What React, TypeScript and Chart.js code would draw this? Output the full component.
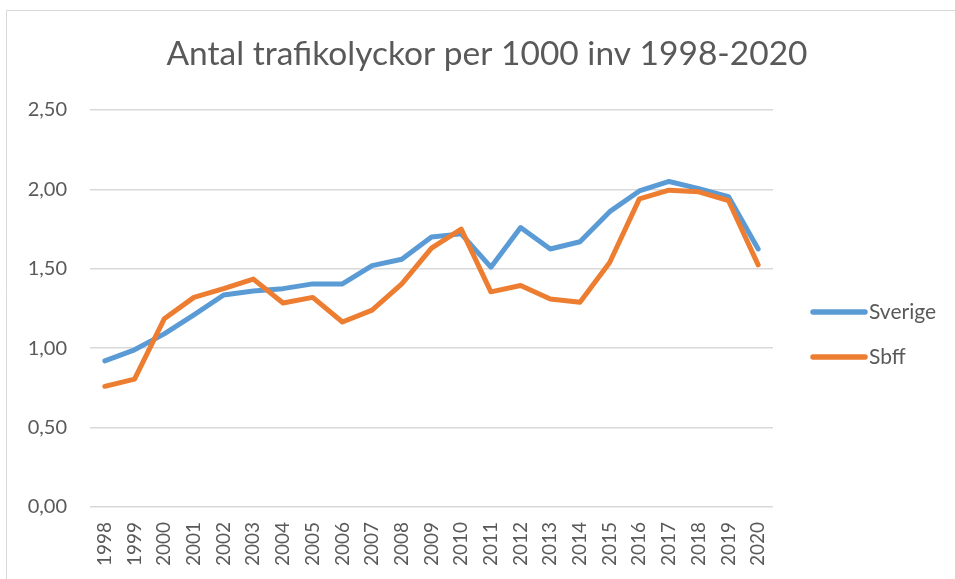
import React, { useEffect, useRef } from "react";
import { Chart, registerables } from "chart.js";

Chart.register(...registerables);

const years = ["1998","1999","2000","2001","2002","2003","2004","2005","2006","2007","2008","2009","2010","2011","2012","2013","2014","2015","2016","2017","2018","2019","2020"];
const sverige = [0.92, 0.99, 1.09, 1.21, 1.335, 1.36, 1.375, 1.405, 1.405, 1.52, 1.56, 1.70, 1.72, 1.51, 1.76, 1.625, 1.67, 1.86, 1.99, 2.05, 2.005, 1.955, 1.625];
const sbff = [0.76, 0.805, 1.185, 1.32, 1.375, 1.435, 1.285, 1.32, 1.165, 1.24, 1.405, 1.63, 1.75, 1.355, 1.395, 1.31, 1.29, 1.54, 1.94, 1.995, 1.985, 1.93, 1.525];
const seriesNames = ["Sverige", "Sbff"];
const seriesColors = ["#5B9BD5", "#ED7D31"];
const titleText = "Antal trafikolyckor per 1000 inv 1998-2020";

const FONT = "Lato, 'Open Sans', sans-serif";
const TEXT = "#595959";

const decorPlugin = {
  id: "decor",
  beforeDraw(chart: any) {
    const ctx = chart.ctx;
    ctx.save();
    ctx.fillStyle = "#ffffff";
    ctx.fillRect(0, 0, chart.width, chart.height);
    ctx.strokeStyle = "#d9d9d9";
    ctx.lineWidth = 1;
    ctx.beginPath();
    ctx.moveTo(6.5, chart.height);
    ctx.lineTo(6.5, 10.5);
    ctx.lineTo(chart.width, 10.5);
    ctx.stroke();
    ctx.restore();
  },
  afterDraw(chart: any) {
    const ctx = chart.ctx;
    ctx.save();
    ctx.fillStyle = TEXT;
    ctx.font = `33.5px ${FONT}`;
    ctx.textAlign = "center";
    ctx.textBaseline = "alphabetic";
    ctx.fillText(titleText, 487, 65);
    const ys = [312, 357];
    chart.data.datasets.forEach((ds: any, i: number) => {
      const y = ys[i];
      ctx.strokeStyle = ds.borderColor;
      ctx.lineWidth = 5.5;
      ctx.lineCap = "round";
      ctx.beginPath();
      ctx.moveTo(813, y);
      ctx.lineTo(865, y);
      ctx.stroke();
      ctx.fillStyle = TEXT;
      ctx.font = `21px ${FONT}`;
      ctx.textAlign = "left";
      ctx.textBaseline = "middle";
      ctx.fillText(ds.label, 869, y);
    });
    ctx.restore();
  },
};

export default function App() {
  const ref = useRef<HTMLCanvasElement>(null);
  useEffect(() => {
    if (!ref.current) return;
    const chart = new Chart(ref.current, {
      type: "line",
      data: {
        labels: years,
        datasets: [
          { label: seriesNames[0], data: sverige, borderColor: seriesColors[0], backgroundColor: seriesColors[0], borderWidth: 5, pointRadius: 0, tension: 0, order: 1, borderJoinStyle: "round", borderCapStyle: "round" },
          { label: seriesNames[1], data: sbff, borderColor: seriesColors[1], backgroundColor: seriesColors[1], borderWidth: 5, pointRadius: 0, tension: 0, order: 0, borderJoinStyle: "round", borderCapStyle: "round" },
        ],
      },
      options: {
        responsive: false,
        animation: false,
        layout: { padding: { left: 0, top: 110, right: 182, bottom: 0 } },
        plugins: { legend: { display: false }, title: { display: false }, tooltip: { enabled: false } },
        scales: {
          x: {
            offset: true,
            grid: { display: false, drawTicks: false },
            border: { display: false },
            ticks: { color: TEXT, font: { family: FONT, size: 19 }, maxRotation: 90, minRotation: 90, padding: 15, autoSkip: false },
            afterFit: (s: any) => { s.height = 72; },
          },
          y: {
            min: 0,
            max: 2.5,
            grid: { color: "#d9d9d9", lineWidth: 1.5, drawTicks: false },
            border: { display: false },
            ticks: {
              stepSize: 0.5,
              color: TEXT,
              padding: 23,
              font: { family: FONT, size: 20 },
              callback: (v: any) => Number(v).toFixed(2).replace(".", ","),
            },
            afterFit: (s: any) => { s.width = 90; },
          },
        },
      },
      plugins: [decorPlugin],
    });
    return () => chart.destroy();
  }, []);
  return (
    <div style={{ position: "fixed", left: 0, top: 0, width: 955, height: 579, background: "#fff" }}>
      <canvas ref={ref} width={955} height={579} style={{ display: "block" }} />
    </div>
  );
}
